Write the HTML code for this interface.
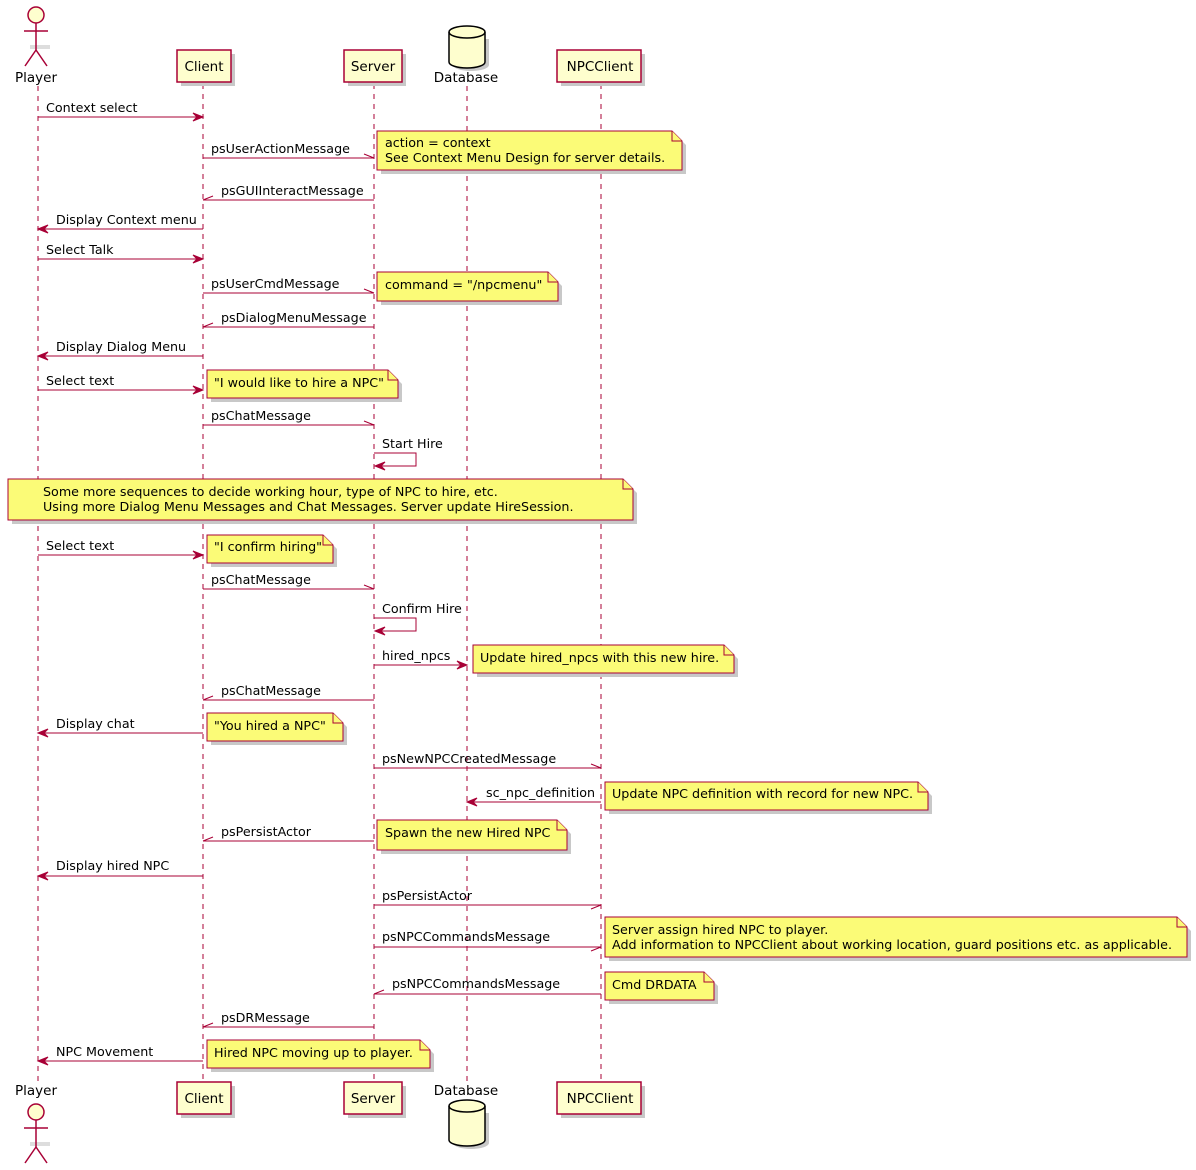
<!DOCTYPE html>
<html><head><meta charset="utf-8"><style>
html,body{margin:0;padding:0;background:#fff;}
svg{display:block;font-family:"DejaVu Sans","Liberation Sans",sans-serif;font-size:12.7px;}
.ll{stroke:#A80036;stroke-width:1;stroke-dasharray:5,5;fill:none}
.m{stroke:#A80036;stroke-width:1;fill:none}
.h{fill:#A80036;stroke:#A80036}
.p{fill:#FEFECE;stroke:#A80036;stroke-width:1.5}
.n{fill:#FBFB77;stroke:#A80036;stroke-width:1}
.sh{fill:#c8c8c8}
.pn{font-size:13.5px;text-anchor:middle}
text{fill:#000}
</style></head><body>
<svg width="1196" height="1170" viewBox="0 0 1196 1170" xmlns="http://www.w3.org/2000/svg">
<!-- lifelines -->
<line class="ll" x1="38" y1="86" x2="38" y2="1082"/>
<line class="ll" x1="203" y1="84" x2="203" y2="1082"/>
<line class="ll" x1="374" y1="84" x2="374" y2="1082"/>
<line class="ll" x1="467" y1="86" x2="467" y2="1082"/>
<line class="ll" x1="601" y1="84" x2="601" y2="1082"/>

<!-- top participants -->
<g>
<line x1="30" y1="47" x2="50" y2="47" stroke="#ddd" stroke-width="4"/>
<circle cx="36" cy="15" r="8" class="p"/>
<line class="m" x1="36" y1="23" x2="36" y2="50" style="stroke-width:1.5"/>
<line class="m" x1="24" y1="31" x2="48" y2="31" style="stroke-width:1.5"/>
<line class="m" x1="36" y1="50" x2="25" y2="66" style="stroke-width:1.5"/>
<line class="m" x1="36" y1="50" x2="47" y2="66" style="stroke-width:1.5"/>
<text class="pn" x="36" y="82">Player</text>
<rect class="sh" x="181" y="54" width="54" height="32"/>
<rect class="p" x="177" y="50" width="54" height="32"/><text class="pn" x="204" y="71">Client</text>
<rect class="sh" x="348" y="54" width="58" height="32"/>
<rect class="p" x="344" y="50" width="58" height="32"/><text class="pn" x="373" y="71">Server</text>
<path d="M450,36 L450,62 A18,6 0 0 0 486,62 L486,36" fill="#c8c8c8" transform="translate(3,3)"/>
<path d="M449,32 L449,62 A18,6 0 0 0 485,62 L485,32 A18,6 0 0 0 449,32 Z" fill="#FEFECE" stroke="#000" stroke-width="1.5"/>
<path d="M449,32 A18,6 0 0 0 485,32" fill="none" stroke="#000" stroke-width="1.5"/>
<text class="pn" x="466" y="82">Database</text>
<rect class="sh" x="561" y="54" width="84" height="32"/>
<rect class="p" x="557" y="50" width="84" height="32"/><text class="pn" x="600" y="71">NPCClient</text>
</g>

<!-- bottom participants -->
<g>
<text class="pn" x="36" y="1095">Player</text>
<line x1="30" y1="1144" x2="50" y2="1144" stroke="#ddd" stroke-width="4"/>
<circle cx="36" cy="1112" r="8" class="p"/>
<line class="m" x1="36" y1="1120" x2="36" y2="1147" style="stroke-width:1.5"/>
<line class="m" x1="24" y1="1128" x2="48" y2="1128" style="stroke-width:1.5"/>
<line class="m" x1="36" y1="1147" x2="25" y2="1163" style="stroke-width:1.5"/>
<line class="m" x1="36" y1="1147" x2="47" y2="1163" style="stroke-width:1.5"/>
<rect class="sh" x="181" y="1086" width="54" height="32"/>
<rect class="p" x="177" y="1082" width="54" height="32"/><text class="pn" x="204" y="1103">Client</text>
<rect class="sh" x="348" y="1086" width="58" height="32"/>
<rect class="p" x="344" y="1082" width="58" height="32"/><text class="pn" x="373" y="1103">Server</text>
<text class="pn" x="466" y="1095">Database</text>
<path d="M450,1110 L450,1140 A18,6 0 0 0 486,1140 L486,1110" fill="#c8c8c8" transform="translate(3,3)"/>
<path d="M449,1106 L449,1140 A18,6 0 0 0 485,1140 L485,1106 A18,6 0 0 0 449,1106 Z" fill="#FEFECE" stroke="#000" stroke-width="1.5"/>
<path d="M449,1106 A18,6 0 0 0 485,1106" fill="none" stroke="#000" stroke-width="1.5"/>
<rect class="sh" x="561" y="1086" width="84" height="32"/>
<rect class="p" x="557" y="1082" width="84" height="32"/><text class="pn" x="600" y="1103">NPCClient</text>
</g>

<!-- messages -->
<g>
<line class="m" x1="38" y1="117" x2="203" y2="117"/><polygon class="h" points="203,117 193,113 197,117 193,121"/>
<text x="46" y="112">Context select</text>
<line class="m" x1="203" y1="158" x2="374" y2="158"/><line class="m" x1="364" y1="154" x2="374" y2="158"/>
<text x="211" y="153">psUserActionMessage</text>
<line class="m" x1="203" y1="200" x2="374" y2="200"/><line class="m" x1="213" y1="196" x2="203" y2="200"/>
<text x="221" y="195">psGUIInteractMessage</text>
<line class="m" x1="38" y1="229" x2="203" y2="229"/><polygon class="h" points="38,229 48,225 44,229 48,233"/>
<text x="56" y="224">Display Context menu</text>
<line class="m" x1="38" y1="259" x2="203" y2="259"/><polygon class="h" points="203,259 193,255 197,259 193,263"/>
<text x="46" y="254">Select Talk</text>
<line class="m" x1="203" y1="293" x2="374" y2="293"/><line class="m" x1="364" y1="289" x2="374" y2="293"/>
<text x="211" y="288">psUserCmdMessage</text>
<line class="m" x1="203" y1="327" x2="374" y2="327"/><line class="m" x1="213" y1="323" x2="203" y2="327"/>
<text x="221" y="322">psDialogMenuMessage</text>
<line class="m" x1="38" y1="356" x2="203" y2="356"/><polygon class="h" points="38,356 48,352 44,356 48,360"/>
<text x="56" y="351">Display Dialog Menu</text>
<line class="m" x1="38" y1="390" x2="203" y2="390"/><polygon class="h" points="203,390 193,386 197,390 193,394"/>
<text x="46" y="385">Select text</text>
<line class="m" x1="203" y1="425" x2="374" y2="425"/><line class="m" x1="364" y1="421" x2="374" y2="425"/>
<text x="211" y="420">psChatMessage</text>
<polyline class="m" points="374,453 416,453 416,466 375,466"/><polygon class="h" points="375,466 385,462 381,466 385,470"/>
<text x="382" y="448">Start Hire</text>
<line class="m" x1="38" y1="555" x2="203" y2="555"/><polygon class="h" points="203,555 193,551 197,555 193,559"/>
<text x="46" y="550">Select text</text>
<line class="m" x1="203" y1="589" x2="374" y2="589"/><line class="m" x1="364" y1="585" x2="374" y2="589"/>
<text x="211" y="584">psChatMessage</text>
<polyline class="m" points="374,618 416,618 416,631 375,631"/><polygon class="h" points="375,631 385,627 381,631 385,635"/>
<text x="382" y="613">Confirm Hire</text>
<line class="m" x1="374" y1="665" x2="467" y2="665"/><polygon class="h" points="467,665 457,661 461,665 457,669"/>
<text x="382" y="660">hired_npcs</text>
<line class="m" x1="203" y1="700" x2="374" y2="700"/><line class="m" x1="213" y1="696" x2="203" y2="700"/>
<text x="221" y="695">psChatMessage</text>
<line class="m" x1="38" y1="733" x2="203" y2="733"/><polygon class="h" points="38,733 48,729 44,733 48,737"/>
<text x="56" y="728">Display chat</text>
<line class="m" x1="374" y1="768" x2="601" y2="768"/><line class="m" x1="591" y1="764" x2="601" y2="768"/>
<text x="382" y="763">psNewNPCCreatedMessage</text>
<line class="m" x1="467" y1="802" x2="601" y2="802"/><polygon class="h" points="467,802 477,798 473,802 477,806"/>
<text x="486" y="797">sc_npc_definition</text>
<line class="m" x1="203" y1="841" x2="374" y2="841"/><line class="m" x1="213" y1="837" x2="203" y2="841"/>
<text x="221" y="836">psPersistActor</text>
<line class="m" x1="38" y1="876" x2="203" y2="876"/><polygon class="h" points="38,876 48,872 44,876 48,880"/>
<text x="56" y="870">Display hired NPC</text>
<line class="m" x1="374" y1="905" x2="601" y2="905"/><line class="m" x1="591" y1="909" x2="601" y2="905"/>
<text x="382" y="900">psPersistActor</text>
<line class="m" x1="374" y1="947" x2="601" y2="947"/><line class="m" x1="591" y1="951" x2="601" y2="947"/>
<text x="382" y="941">psNPCCommandsMessage</text>
<line class="m" x1="374" y1="994" x2="601" y2="994"/><line class="m" x1="384" y1="990" x2="374" y2="994"/>
<text x="392" y="988">psNPCCommandsMessage</text>
<line class="m" x1="203" y1="1027" x2="374" y2="1027"/><line class="m" x1="213" y1="1023" x2="203" y2="1027"/>
<text x="221" y="1022">psDRMessage</text>
<line class="m" x1="38" y1="1061" x2="203" y2="1061"/><polygon class="h" points="38,1061 48,1057 44,1061 48,1065"/>
<text x="56" y="1056">NPC Movement</text>
</g>

<!-- notes -->
<g>
<path class="sh" d="M381,135 H676 L686,145 V174 H381 Z"/>
<path class="n" d="M377,131 H672 L682,141 V170 H377 Z"/><path class="n" d="M672,131 V141 H682" fill="none"/>
<text x="385" y="147">action = context</text><text x="385" y="162">See Context Menu Design for server details.</text>

<path class="sh" d="M381,276 H552 L562,286 V305 H381 Z"/>
<path class="n" d="M377,272 H548 L558,282 V301 H377 Z"/><path class="n" d="M548,272 V282 H558" fill="none"/>
<text x="385" y="289">command = "/npcmenu"</text>

<path class="sh" d="M211,374 H392 L402,384 V402 H211 Z"/>
<path class="n" d="M207,370 H388 L398,380 V398 H207 Z"/><path class="n" d="M388,370 V380 H398" fill="none"/>
<text x="214" y="387">"I would like to hire a NPC"</text>

<path class="sh" d="M12,483 H627 L637,493 V524 H12 Z"/>
<path class="n" d="M8,479 H623 L633,489 V520 H8 Z"/><path class="n" d="M623,479 V489 H633" fill="none"/>
<text x="43" y="496">Some more sequences to decide working hour, type of NPC to hire, etc.</text>
<text x="43" y="511">Using more Dialog Menu Messages and Chat Messages. Server update HireSession.</text>

<path class="sh" d="M211,539 H327 L337,549 V567 H211 Z"/>
<path class="n" d="M207,535 H323 L333,545 V563 H207 Z"/><path class="n" d="M323,535 V545 H333" fill="none"/>
<text x="214" y="551">"I confirm hiring"</text>

<path class="sh" d="M477,649 H728 L738,659 V677 H477 Z"/>
<path class="n" d="M473,645 H724 L734,655 V673 H473 Z"/><path class="n" d="M724,645 V655 H734" fill="none"/>
<text x="480" y="662">Update hired_npcs with this new hire.</text>

<path class="sh" d="M211,717 H337 L347,727 V745 H211 Z"/>
<path class="n" d="M207,713 H333 L343,723 V741 H207 Z"/><path class="n" d="M333,713 V723 H343" fill="none"/>
<text x="214" y="730">"You hired a NPC"</text>

<path class="sh" d="M609,786 H922 L932,796 V814 H609 Z"/>
<path class="n" d="M605,782 H918 L928,792 V810 H605 Z"/><path class="n" d="M918,782 V792 H928" fill="none"/>
<text x="612" y="798">Update NPC definition with record for new NPC.</text>

<path class="sh" d="M381,824 H561 L571,834 V854 H381 Z"/>
<path class="n" d="M377,820 H557 L567,830 V850 H377 Z"/><path class="n" d="M557,820 V830 H567" fill="none"/>
<text x="385" y="837">Spawn the new Hired NPC</text>

<path class="sh" d="M609,921 H1181 L1191,931 V961 H609 Z"/>
<path class="n" d="M605,917 H1177 L1187,927 V957 H605 Z"/><path class="n" d="M1177,917 V927 H1187" fill="none"/>
<text x="612" y="934">Server assign hired NPC to player.</text>
<text x="612" y="949">Add information to NPCClient about working location, guard positions etc. as applicable.</text>

<path class="sh" d="M609,976 H708 L718,986 V1004 H609 Z"/>
<path class="n" d="M605,972 H704 L714,982 V1000 H605 Z"/><path class="n" d="M704,972 V982 H714" fill="none"/>
<text x="612" y="989">Cmd DRDATA</text>

<path class="sh" d="M211,1044 H424 L434,1054 V1072 H211 Z"/>
<path class="n" d="M207,1040 H420 L430,1050 V1068 H207 Z"/><path class="n" d="M420,1040 V1050 H430" fill="none"/>
<text x="214" y="1057">Hired NPC moving up to player.</text>
</g>
</svg>
</body></html>
